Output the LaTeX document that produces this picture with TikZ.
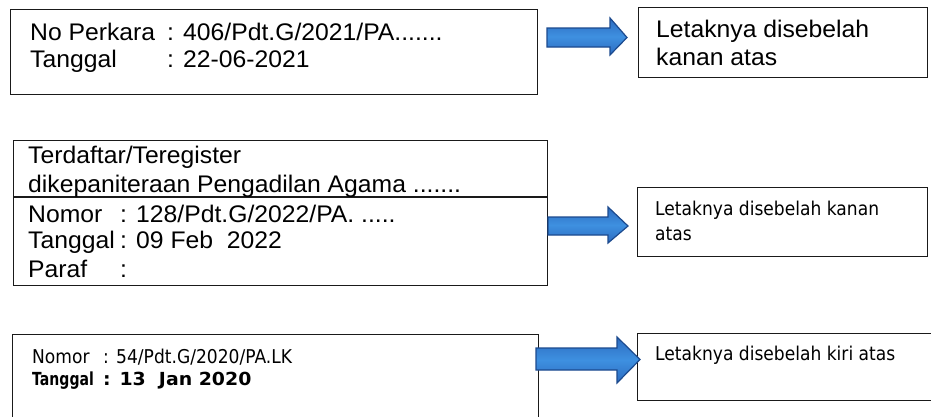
\documentclass[tikz,border=0pt]{standalone}
\usepackage{fontspec}
\setmainfont[FakeStretch=1.03]{Liberation Sans}
\newfontfamily\tahfont[FakeStretch=0.9]{DejaVu Sans}
\newfontfamily\tahboldA[FakeStretch=0.78]{DejaVu Sans}
\newfontfamily\tahboldB[FakeStretch=1.05]{DejaVu Sans}
\definecolor{arrmain}{HTML}{2C6BC0}
\definecolor{arrlight}{HTML}{3E90E0}
\definecolor{arredge}{HTML}{1C4A8E}
\definecolor{boxline}{HTML}{1A1A1A}
\begin{document}
\begin{tikzpicture}[x=1pt,y=-1pt,
  box/.style={draw=boxline, line width=1.3pt, rectangle, inner sep=0pt, anchor=north west},
  ariatxt/.style={font=\fontsize{24}{28}\selectfont, anchor=base west, inner sep=0pt},
  tahtxt/.style={font=\tahfont\fontsize{19}{22}\selectfont, anchor=base west, inner sep=0pt},
  tahbA/.style={font=\tahboldA\bfseries\fontsize{18}{22}\selectfont, anchor=base west, inner sep=0pt},
  tahbB/.style={font=\tahboldB\bfseries\fontsize{18}{22}\selectfont, anchor=base west, inner sep=0pt},
  blockarrow/.style={top color=arrmain, bottom color=arrmain, middle color=arrlight, draw=arredge, line width=1.2pt, line join=miter}
]
\useasboundingbox (0,0) rectangle (931,416);
\clip (0,0) rectangle (931,416);

% ---- row 1 ----
\node[box, minimum width=527pt, minimum height=85pt] (b1) at (10,9) {};
\node[ariatxt] (t1a) at (30,40) {No Perkara};
\node[ariatxt] (t1b) at (167,40) {: 406/Pdt.G/2021/PA.......};
\node[ariatxt] (t1c) at (30,67) {Tanggal};
\node[ariatxt] (t1d) at (167,67) {: 22-06-2021};

\node[box, minimum width=289pt, minimum height=70pt] (r1) at (638,7) {};
\node[ariatxt] (r1a) at (656,37) {Letaknya disebelah};
\node[ariatxt] (r1b) at (656,65) {kanan atas};

\shade[blockarrow] (547,28) -- (610,28) -- (610,18) -- (627,37.5) -- (610,55) -- (610,47) -- (547,47) -- cycle;

% ---- row 2 ----
\node[box, minimum width=534pt, minimum height=145pt] (b2) at (13,140) {};
\draw[draw=boxline, line width=1.3pt] (b2.west |- 0,197) -- (b2.east |- 0,197);
\node[ariatxt] (t2a) at (28,163) {Terdaftar/Teregister};
\node[ariatxt] (t2b) at (28,192) {dikepaniteraan Pengadilan Agama .......};
\node[ariatxt] (t2c) at (28,222) {Nomor};
\node[ariatxt] (t2d) at (120,222) {: 128/Pdt.G/2022/PA. .....};
\node[ariatxt] (t2e) at (28,248) {Tanggal};
\node[ariatxt] (t2f) at (120,248) {: 09 Feb\ \ 2022};
\node[ariatxt] (t2g) at (28,277) {Paraf};
\node[ariatxt] (t2h) at (120,277) {:};

\node[box, minimum width=290pt, minimum height=69pt] (r2) at (637,187) {};
\node[tahtxt] (r2a) at (655,215) {Letaknya disebelah kanan};
\node[tahtxt] (r2b) at (655,240) {atas};

\shade[blockarrow] (548,217) -- (608,217) -- (608,207) -- (628,226) -- (608,243) -- (608,235) -- (548,235) -- cycle;

% ---- row 3 ----
\node[box, minimum width=526pt, minimum height=100pt] (b3) at (12,334) {};
\node[tahtxt] (t3a) at (32,363) {Nomor};
\node[tahtxt] (t3b) at (103,363) {: 54/Pdt.G/2020/PA.LK};
\node[tahbA] (t3c) at (32,385) {Tanggal};
\node[tahbB] (t3d) at (103,385) {: 13\ \ Jan 2020};

\node[box, minimum width=310pt, minimum height=67pt] (r3) at (637,333) {};
\node[tahtxt] (r3a) at (655,360) {Letaknya disebelah kiri atas};

\shade[blockarrow] (536,348) -- (617,348) -- (617,337) -- (640,359.5) -- (617,383) -- (617,370) -- (536,370) -- cycle;
\end{tikzpicture}
\end{document}
